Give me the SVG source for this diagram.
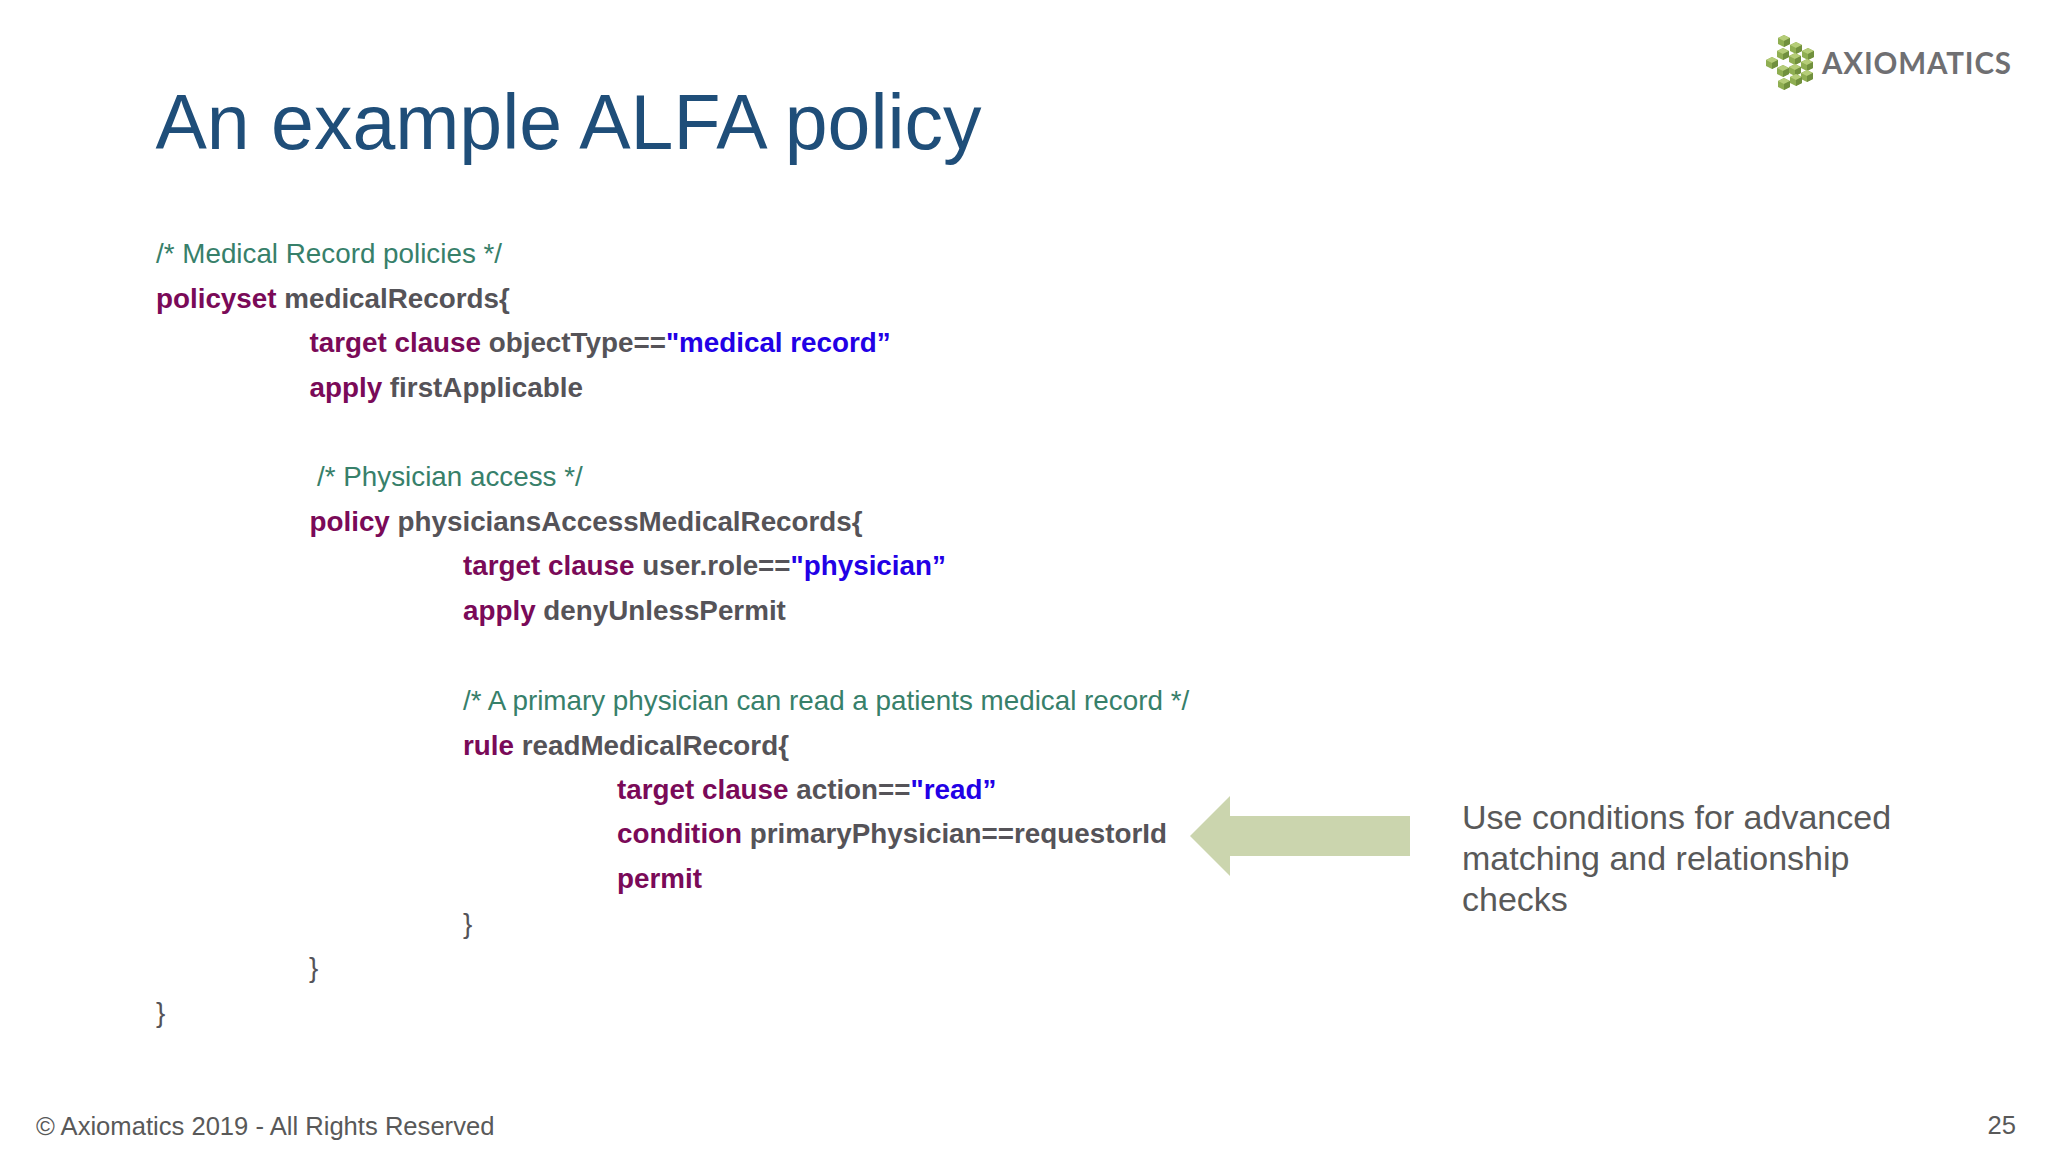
<svg xmlns="http://www.w3.org/2000/svg" width="2048" height="1152" viewBox="0 0 2048 1152">
<style>
text{font-family:"Liberation Sans",Arial,sans-serif;white-space:pre}
.t{font-size:77px;fill:#1f4e79}
.c{font-size:27.8px;fill:#555358;font-weight:700}
.g{fill:#37806a;font-weight:400}
.k{fill:#7a0a58}
.s{fill:#2200e6}
.b{font-weight:400}
.n{font-size:34px;fill:#595959}
.f{font-size:25.6px;fill:#595959}
</style>
<defs>
<g id="cube">
<path d="M0-5L6-2V4L0 7L-6 4V-2Z" fill="#8fae52"/>
<path d="M0-5L6-2L0 1L-6-2Z" fill="#b5cd78"/>
<path d="M0 1L6-2V4L0 7Z" fill="#71903e"/>
</g>
</defs>
<rect width="2048" height="1152" fill="#fff"/>
<text class="t" x="155.500" y="149">An example ALFA policy</text>
<g id="code">
<text class="c g" x="156" y="262.500">/* Medical Record policies */</text>
<text class="c" x="156" y="307.500"><tspan class="k">policyset</tspan> medicalRecords{</text>
<text class="c" x="309.500" y="352"><tspan class="k">target clause</tspan> objectType==<tspan class="s">"medical record”</tspan></text>
<text class="c" x="309.500" y="396.500"><tspan class="k">apply</tspan> firstApplicable</text>
<text class="c g" x="317" y="486">/* Physician access */</text>
<text class="c" x="309.500" y="530.500"><tspan class="k">policy</tspan> physiciansAccessMedicalRecords{</text>
<text class="c" x="463" y="575"><tspan class="k">target clause</tspan> user.role==<tspan class="s">"physician”</tspan></text>
<text class="c" x="463" y="620"><tspan class="k">apply</tspan> denyUnlessPermit</text>
<text class="c g" x="463" y="709.500">/* A primary physician can read a patients medical record */</text>
<text class="c" x="463" y="754.500"><tspan class="k">rule</tspan> readMedicalRecord{</text>
<text class="c" x="617" y="798.500"><tspan class="k">target clause</tspan> action==<tspan class="s">"read”</tspan></text>
<text class="c" x="617" y="843"><tspan class="k">condition</tspan> primaryPhysician==requestorId</text>
<text class="c k" x="617" y="887.500">permit</text>
<text class="c b" x="463" y="932.500">}</text>
<text class="c b" x="309" y="977">}</text>
<text class="c b" x="156" y="1021.500">}</text>
</g>
<g id="connectors">
<path id="arrow" d="M1190 836L1230 796V816H1410V856H1230V876Z" fill="#cbd5ae"/>
</g>
<g id="note">
<text class="n" x="1462" y="828.500">Use conditions for advanced</text>
<text class="n" x="1462" y="869.500">matching and relationship</text>
<text class="n" x="1462" y="910.500">checks</text>
</g>
<g id="logo">
<use href="#cube" x="1784" y="40"/>
<use href="#cube" x="1772" y="62"/>
<use href="#cube" x="1784" y="83"/>
<use href="#cube" x="1796" y="47"/>
<use href="#cube" x="1808" y="53"/>
<use href="#cube" x="1783" y="53"/>
<use href="#cube" x="1795" y="58"/>
<use href="#cube" x="1807" y="64"/>
<use href="#cube" x="1783" y="70"/>
<use href="#cube" x="1795" y="69"/>
<use href="#cube" x="1807" y="75"/>
<use href="#cube" x="1796" y="79"/>
<text x="1822" y="73.500" font-size="29.500" font-weight="700" fill="#6f6f72" style="font-family:Lato,'Liberation Sans',sans-serif" textLength="189">AXIOMATICS</text>
</g>
<g id="footer">
<text class="f" x="36" y="1135">© Axiomatics 2019 - All Rights Reserved</text>
<text class="f" x="2016" y="1134" text-anchor="end">25</text>
</g>
</svg>
